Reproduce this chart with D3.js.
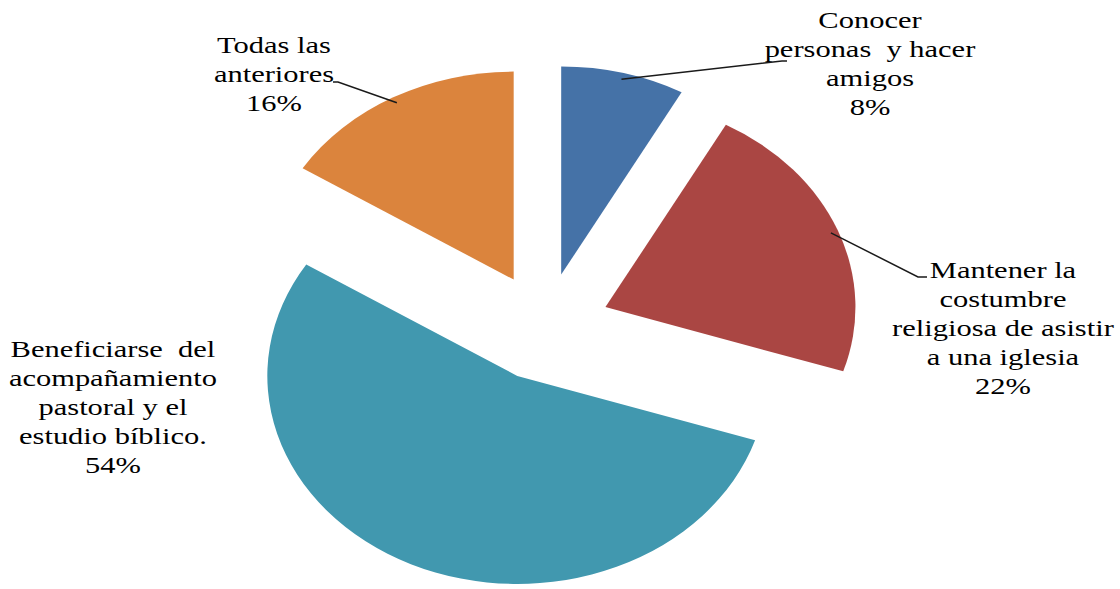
<!DOCTYPE html>
<html>
<head>
<meta charset="utf-8">
<script src="https://cdn.jsdelivr.net/npm/d3@7"></script>
</head>
<body style="margin:0">
<div id="chart"></div>
<script>
// Data
var categories = [
  ["Conocer", "personas  y hacer", "amigos"],
  ["Mantener la", "costumbre", "religiosa de asistir", "a una iglesia"],
  ["Beneficiarse  del", "acompañamiento", "pastoral y el", "estudio bíblico."],
  ["Todas las", "anteriores"]
];
var values = [8, 22, 54, 16];
var colors = ["#4572A7", "#AA4643", "#4198AF", "#DB843D"];

// Layout
var svgWidth = 1120;
var svgHeight = 589;
var cx = 545, cy = 327;
var rx = 250, ry = 208;
var explode = 0.26;
var fontSize = 24;
var lineHeight = 29;
var textStretch = 1.27;

// label block centre x, first baseline y, leader end points (null = no leader)
var labelPos = [
  { x: 870, y: 28, leader: [[782, 61], [787, 61]] },
  { x: 1003, y: 278, leader: [[918, 277], [927, 277]] },
  { x: 113, y: 357, leader: null },
  { x: 274, y: 53, leader: [[338, 82], [333, 82]] }
];

var svg = d3.select("#chart")
  .append("svg")
  .attr("width", svgWidth)
  .attr("height", svgHeight);

var pie = d3.pie().sort(null).value(d => d);
var arcs = pie(values);

var arc = d3.arc().innerRadius(0).outerRadius(rx);

// point on the (elliptical) pie at a given angle and radius fraction
function ell(angle, k) {
  return [cx + k * rx * Math.sin(angle), cy - k * ry * Math.cos(angle)];
}

// pie group squashed vertically to get the ellipse
var pieGroup = svg.append("g")
  .attr("transform", `translate(${cx}, ${cy}) scale(1, ${ry / rx})`);

pieGroup.selectAll("path")
  .data(arcs)
  .enter()
  .append("path")
  .attr("d", arc)
  .attr("fill", (d, i) => colors[i])
  .attr("transform", function(d) {
    var mid = (d.startAngle + d.endAngle) / 2;
    var dx = explode * rx * Math.sin(mid);
    var dy = -explode * rx * Math.cos(mid);
    return `translate(${dx}, ${dy})`;
  });

// leader lines
arcs.forEach(function(d, i) {
  var lp = labelPos[i];
  if (!lp.leader) return;
  var mid = (d.startAngle + d.endAngle) / 2;
  var start = ell(mid, 1 + explode - 0.03);
  var pts = [start].concat(lp.leader);
  svg.append("path")
    .attr("d", d3.line()(pts))
    .attr("fill", "none")
    .attr("stroke", "#1a1a1a")
    .attr("stroke-width", 1.5);
});

// labels: each line is its own text, stretched and centred by measuring it
arcs.forEach(function(d, i) {
  var lp = labelPos[i];
  var lines = categories[i].concat([values[i] + "%"]);
  lines.forEach(function(t, j) {
    var txt = svg.append("text")
      .attr("font-size", fontSize + "px")
      .attr("font-family", "'Liberation Serif'")
      .attr("xml:space", "preserve")
      .text(t);
    var w = txt.node().getComputedTextLength() * textStretch;
    txt.attr("transform",
      `translate(${lp.x - w / 2}, ${lp.y + j * lineHeight}) scale(${textStretch},1)`);
  });
});
</script>
</body>
</html>
